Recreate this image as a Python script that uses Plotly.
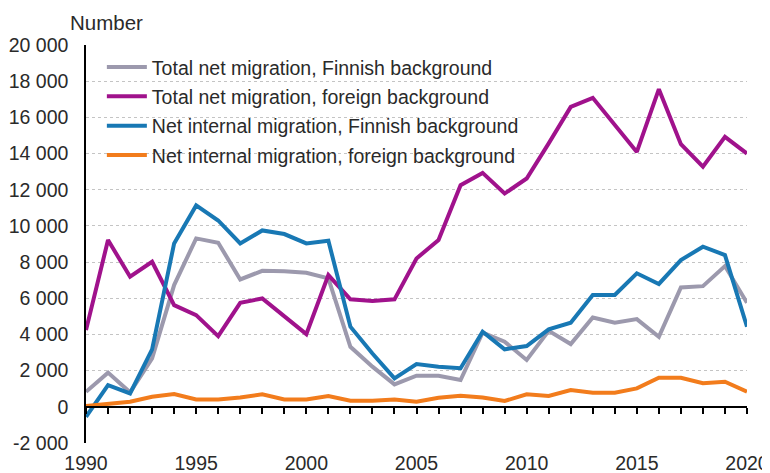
import plotly.graph_objects as go

years = list(range(1990, 2021))
total_finnish = [830, 1890, 800, 2680, 6730, 9310, 9070, 7040, 7520, 7500, 7410, 7100,
                 3320, 2220, 1240, 1720, 1720, 1480, 4100, 3600, 2590, 4200, 3470, 4940,
                 4650, 4850, 3870, 6600, 6670, 7780, 5750]
total_foreign = [4240, 9220, 7190, 8020, 5620, 5070, 3910, 5750, 5990, 4980, 4020, 7280,
                 5940, 5850, 5940, 8200, 9220, 12250, 12930, 11790, 12620, 14560, 16580, 17080,
                 15620, 14090, 17560, 14520, 13270, 14920, 14000]
internal_finnish = [-550, 1200, 740, 3180, 9030, 11130, 10300, 9030, 9750, 9550, 9030, 9180,
                    4430, 2950, 1570, 2360, 2220, 2130, 4150, 3180, 3360, 4280, 4650, 6180,
                    6180, 7380, 6790, 8110, 8850, 8390, 4430]
internal_foreign = [50, 190, 280, 560, 710, 410, 410, 520, 690, 410, 410, 600,
                    340, 340, 410, 280, 500, 610, 520, 320, 690, 600, 930, 780,
                    780, 1020, 1610, 1610, 1300, 1390, 830]

series_names = ["Total net migration, Finnish background",
                "Total net migration, foreign background",
                "Net internal migration, Finnish background",
                "Net internal migration, foreign background"]
series_colors = ["#9c99ad", "#a0128c", "#1878b4", "#f27c1c"]
series_values = [total_finnish, total_foreign, internal_finnish, internal_foreign]

y_ticks = list(range(-2000, 20001, 2000))
y_tick_labels = [f"{v:,}".replace(",", " ") if v >= 0 else "-" + f"{-v:,}".replace(",", " ") for v in y_ticks]
x_ticks = [1990, 1995, 2000, 2005, 2010, 2015, 2020]

FONT = "Liberation Sans, Arial, sans-serif"
FS = 19.5
TXT = "#2a2a2a"

fig = go.Figure()
for i, (name, color, vals) in enumerate(zip(series_names, series_colors, series_values)):
    fig.add_trace(go.Scatter(x=years, y=vals, mode="lines", name=name,
                             legendgroup=f"g{i}",
                             line=dict(color=color, width=4)))

# invisible trace to carry the zero axis with year ticks
fig.add_trace(go.Scatter(x=years, y=[0] * len(years), xaxis="x2", mode="lines",
                         line=dict(width=0), showlegend=False, hoverinfo="skip"))

fig.update_layout(
    width=762, height=465,
    margin=dict(l=78, r=23, t=37, b=30, autoexpand=False),
    paper_bgcolor="white", plot_bgcolor="white",
    font=dict(family=FONT, size=FS, color=TXT),
    showlegend=True,
    legend=dict(x=0.024, y=0.993, xanchor="left", yanchor="top", itemwidth=40,
                bgcolor="rgba(0,0,0,0)", font=dict(size=FS, color=TXT),
                traceorder="grouped", tracegroupgap=1),
    xaxis=dict(range=[1990, 2020], tickvals=x_ticks, ticktext=[str(v) for v in x_ticks],
               showgrid=False, zeroline=False, showline=False, ticks="",
               ticklabelstandoff=6, tickfont=dict(size=FS), automargin=False),
    xaxis2=dict(range=[1990, 2020], overlaying="x", anchor="free", position=1 / 11,
                showline=True, linecolor="black", linewidth=1.5, ticks="outside",
                tickvals=years, ticklen=6, tickcolor="black", tickwidth=1.5,
                showticklabels=False, showgrid=False, zeroline=False, automargin=False),
    yaxis=dict(range=[-2000, 20000], tickvals=y_ticks, ticktext=y_tick_labels,
               showgrid=True, gridcolor="#c4c4c4", griddash="dot", gridwidth=1,
               zeroline=False, showline=True, linecolor="black", linewidth=1.5,
               ticks="", ticklabelstandoff=12, tickfont=dict(size=FS), automargin=False),
    annotations=[dict(text="Number", xref="paper", yref="paper", x=-0.0273, y=1.0,
                      xanchor="left", yanchor="middle", yshift=23, showarrow=False,
                      font=dict(size=20.5, color=TXT))],
)

fig.write_html("out.html")
